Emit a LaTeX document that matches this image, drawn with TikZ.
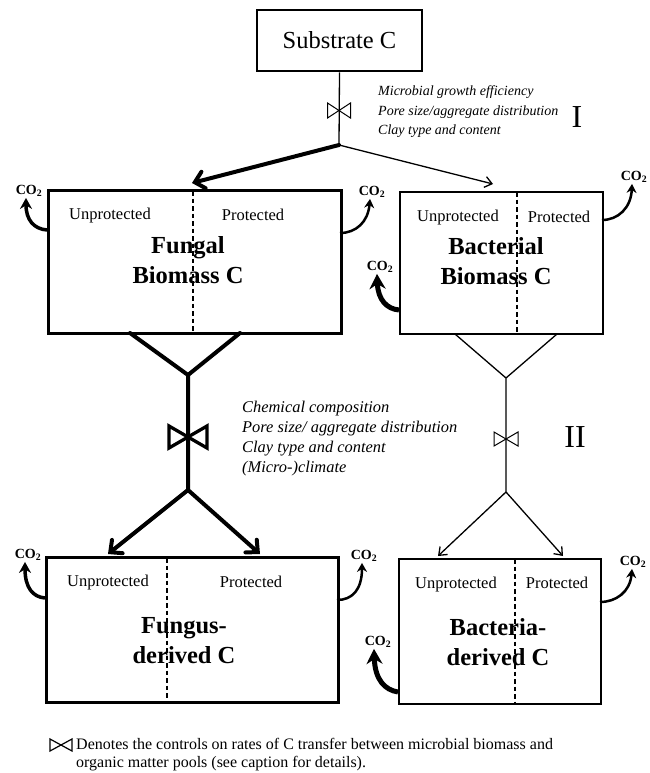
\documentclass[tikz,border=0pt]{standalone}
\usepackage{fontspec}
\setmainfont{Liberation Serif}
\usetikzlibrary{arrows.meta}
\begin{document}
\begin{tikzpicture}[x=1pt,y=-1pt,
  boxthick/.style={draw,line width=3.3pt,inner sep=0pt,anchor=north west},
  boxthin/.style={draw,line width=1.8pt,inner sep=0pt,anchor=north west},
  divider/.style={line width=1.2pt,dash pattern=on 4.5pt off 3pt},
  fthick/.style={line width=4pt,line cap=round,line join=round},
  fthin/.style={line width=1.3pt},
  thickhead/.style={-{Straight Barb[length=9pt,width=17pt,line cap=round]}},
  thinhead/.style={-{Straight Barb[length=7pt,width=11pt]}},
  lbl/.style={font=\fontsize{16.5}{18}\selectfont,inner sep=0pt,anchor=base},
  title/.style={font=\fontsize{24.5}{30}\selectfont\bfseries,align=center,inner sep=0pt},
  ctrl/.style={font=\fontsize{16.4}{19.8}\selectfont\itshape,align=left,inner sep=0pt,anchor=north west},
  roman/.style={font=\fontsize{32}{32}\selectfont,inner sep=0pt},
  co2/.style={font=\fontsize{14}{14}\selectfont\bfseries,inner sep=1pt},
  co2s/.style={line width=2.5pt,-{Stealth[length=9pt,width=10pt]}},
  co2m/.style={line width=3.5pt,-{Stealth[length=11pt,width=12pt]}},
  co2b/.style={line width=5pt,-{Stealth[length=15pt,width=16pt]}},
  valve/.pic={\draw[pic actions] (-1,-1) -- (1,1) -- (1,-1) -- (-1,1) -- cycle;}
]
\useasboundingbox (0,0) rectangle (649,773);

% ---------- boxes ----------
\node[draw,line width=2.8pt,minimum width=165pt,minimum height=61pt,inner sep=0pt,
      font=\fontsize{24.5}{28}\selectfont] (sub) at (339.5,40.5) {Substrate C};
\node[boxthick,minimum width=293pt,minimum height=143pt] (fung) at (47,189) {};
\node[boxthin,minimum width=203pt,minimum height=142pt] (bact) at (399,191) {};
\node[boxthick,minimum width=292pt,minimum height=145pt] (fd) at (45,556) {};
\node[boxthin,minimum width=202pt,minimum height=145pt] (bd) at (398,558) {};

% dividers
\draw[divider] (193,191) -- (193,331);
\draw[divider] (517,192) -- (517,332);
\draw[divider] (167,558) -- (167,699);
\draw[divider] (515,559) -- (515,702);

% ---------- box texts ----------
\node[lbl] (fu) at (110,219) {Unprotected};
\node[lbl] (fp) at (253,220) {Protected};
\node[lbl] (bu) at (458,221) {Unprotected};
\node[lbl] (bp) at (559,222) {Protected};
\node[lbl] (fdu) at (108,586) {Unprotected};
\node[lbl] (fdp) at (251,587) {Protected};
\node[lbl] (bdu) at (456,588) {Unprotected};
\node[lbl] (bdp) at (557,588) {Protected};

\node[title] (fungt) at (188,260) {Fungal\\Biomass C};
\node[title] (bactt) at (496,261) {Bacterial\\Biomass C};
\node[title] (fdt) at (184,641) {Fungus-\\derived C};
\node[title] (bdt) at (498,642) {Bacteria-\\derived C};

% ---------- substrate split ----------
\coordinate (j1) at (339,145);
\coordinate (fin) at (192,183);
\coordinate (bin) at (493,184);
\draw[fthin] (sub.south) -- (j1);
\pic[xscale=11.5,yscale=7.5,line width=1pt] at (339,110.5) {valve};
\draw[fthick,thickhead] (j1) -- (fin);
\draw[fthin,thinhead] (j1) -- (bin);

\node[ctrl,font=\fontsize{14}{19.5}\selectfont\itshape] (c1) at (378,85.5) {Microbial growth efficiency\\Pore size/aggregate distribution\\Clay type and content};
\node[roman] (r1) at (577,117) {I};

% ---------- fungal funnel ----------
\coordinate (fl) at (130,333);
\coordinate (fr) at (240,333);
\coordinate (fa) at (188,375);
\coordinate (fb) at (188,490);
\coordinate (ftl) at (108,554);
\coordinate (ftr) at (260,554);
\draw[fthick] (fl) -- (fa) -- (fr) (fa) -- (fb);
\pic[xscale=19,yscale=11,line width=3.3pt] at (188,437) {valve};
\draw[fthick,thickhead] (fb) -- (ftl);
\draw[fthick,thickhead] (fb) -- (ftr);

% ---------- bacterial funnel ----------
\coordinate (bl) at (455,334);
\coordinate (br) at (557,334);
\coordinate (ba) at (506,378);
\coordinate (bb) at (506,492);
\coordinate (btl) at (438,556);
\coordinate (btr) at (563,556);
\draw[fthin] (bl) -- (ba) -- (br) (ba) -- (bb);
\pic[xscale=12,yscale=7,line width=1pt] at (506,439) {valve};
\draw[fthin,thinhead] (bb) -- (btl);
\draw[fthin,thinhead] (bb) -- (btr);

\node[ctrl,font=\fontsize{16.4}{20}\selectfont\itshape] (c2) at (242,401) {Chemical composition\\Pore size/ aggregate distribution\\Clay type and content\\(Micro-)climate};
\node[roman] (r2) at (575,437) {II};

% ---------- CO2 labels ----------
\node[co2] (g1) at (29,191) {CO\textsubscript{2}};
\node[co2] (g2) at (372,192) {CO\textsubscript{2}};
\node[co2] (g3) at (634,177) {CO\textsubscript{2}};
\node[co2] (g4) at (380,267) {CO\textsubscript{2}};
\node[co2] (g5) at (28,555) {CO\textsubscript{2}};
\node[co2] (g6) at (364,556) {CO\textsubscript{2}};
\node[co2] (g7) at (633,562) {CO\textsubscript{2}};
\node[co2] (g8) at (378,642) {CO\textsubscript{2}};

\coordinate (s1) at (47,230);
\coordinate (s2) at (340,233);
\coordinate (s3) at (602,220);
\coordinate (s4) at (399,310);
\coordinate (s5) at (45,598);
\coordinate (s6) at (337,600);
\coordinate (s7) at (600,602);
\coordinate (s8) at (398,692);

\draw[co2m] (s1) .. controls (34,229) and (26,220) .. ([xshift=-3pt]g1.south);
\draw[co2s] (s2) .. controls (356,233) and (368,222) .. ([xshift=-2pt]g2.south);
\draw[co2s] (s3) .. controls (618,220) and (631,208) .. ([xshift=-2pt]g3.south);
\draw[co2b] (s4) .. controls (387,309) and (378,300) .. ([xshift=-3pt]g4.south);
\draw[co2m] (s5) .. controls (33,597) and (25,588) .. ([xshift=-3pt]g5.south);
\draw[co2s] (s6) .. controls (352,600) and (362,590) .. ([xshift=-2pt]g6.south);
\draw[co2s] (s7) .. controls (616,602) and (630,592) .. ([xshift=-1pt]g7.south);
\draw[co2b] (s8) .. controls (385,690) and (375,680) .. ([xshift=-4pt]g8.south);

% ---------- legend ----------
\pic[xscale=11,yscale=6,line width=1.2pt] at (61,745) {valve};
\node[anchor=north west,inner sep=0pt,align=left,font=\fontsize{16}{18.5}\selectfont] (leg) at (76,738)
  {Denotes the controls on rates of C transfer between microbial biomass and\\organic matter pools (see caption for details).};
\end{tikzpicture}
\end{document}
